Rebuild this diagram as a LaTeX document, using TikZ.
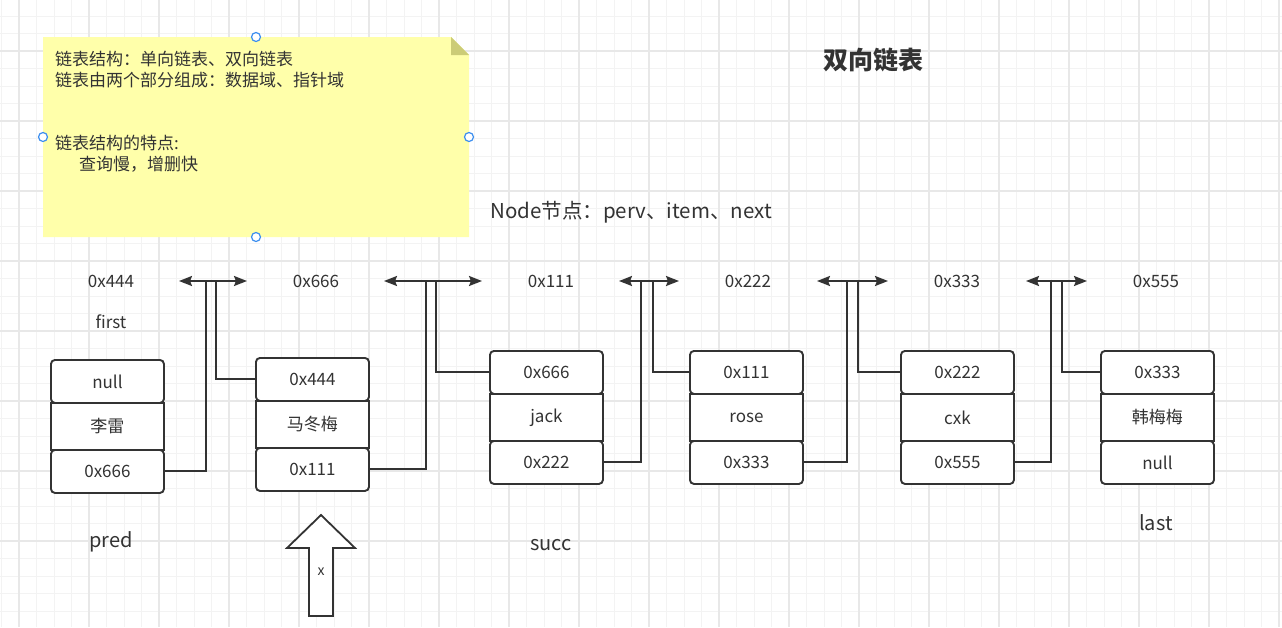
\documentclass[tikz,border=0pt]{standalone}
\usepackage{fontspec}
\setmainfont{Noto Sans CJK SC}
\usetikzlibrary{arrows.meta}
\definecolor{ink}{HTML}{333333}
\definecolor{gminor}{HTML}{F3F3F3}
\definecolor{gmajor}{HTML}{E8E8E8}
\definecolor{notey}{HTML}{FFFFAA}
\definecolor{notefold}{HTML}{CCCC77}
\definecolor{handle}{HTML}{3D8FEF}
\newcommand\setfs[1]{\fontsize{#1}{#1}\selectfont}
\newcommand\llnode[6]{%
  \node[midcell, anchor=north west] (#1m) at ({#2},{#3+43}) {#5};
  \node[cell, anchor=north west] (#1t) at ({#2},{#3}) {#4};
  \node[cell, anchor=north west] (#1b) at ({#2},{#3+90}) {#6};
}
\newcommand\llconn[7]{%
  \coordinate (#7l) at (#3,281);
  \coordinate (#7r) at (#4,281);
  \coordinate (#7tl) at (#5,281);
  \coordinate (#7tr) at (#6,281);
  \draw[link,-{Stealth[length=13pt,width=10pt,inset=2pt]}] (#1b.east) -| (#7l) -- (#7tl);
  \draw[link] (#7l) -- (#7r);
  \draw[link,-{Stealth[length=13pt,width=10pt,inset=2pt]}] (#2t.west) -| (#7r) -- (#7tr);
}
\tikzset{
  gridminorline/.style={draw=gminor, line width=1},
  gridmajorline/.style={draw=gmajor, line width=1.4},
  cell/.style={draw=ink, line width=1.9, fill=white, rounded corners=4, minimum width=113, minimum height=43, inner sep=0, font=\setfs{17}, text=ink},
  midcell/.style={draw=ink, line width=1.9, fill=white, minimum width=113, minimum height=47, inner sep=0, font=\setfs{17}, text=ink},
  link/.style={draw=ink, line width=2},
  lbl/.style={inner sep=0, text=ink, font=\setfs{17}},
  biglbl/.style={inner sep=0, text=ink, font=\setfs{20}},
  notetxt/.style={inner sep=0, text=ink, font=\setfs{17}, anchor=west},
  handledot/.style={draw=handle, fill=white, line width=1.2, circle, inner sep=0, minimum size=9},
}
\begin{document}
\begin{tikzpicture}[x=1pt,y=-1pt]
\useasboundingbox (0,0) rectangle (1282,627);
\fill[white] (0,0) rectangle (1282,627);
% grid
\foreach \i in {0,...,73} \draw[gridminorline] ({1.5+17.5*\i},0) -- ({1.5+17.5*\i},627);
\foreach \j in {1,...,36} \draw[gridminorline] (0,{-1.5+17.5*\j}) -- (1282,{-1.5+17.5*\j});
\foreach \i in {0,...,18} \draw[gridmajorline] ({19+70*\i},0) -- ({19+70*\i},627);
\foreach \j in {1,...,8} \draw[gridmajorline] (0,{-19+70*\j}) -- (1282,{-19+70*\j});

% note
\fill[notey] (43,37) -- (451,37) -- (469,55) -- (469,237) -- (43,237) -- cycle;
\fill[notefold] (451,37) -- (451,55) -- (469,55) -- cycle;
\node[notetxt] (n1) at (55,59) {链表结构：单向链表、双向链表};
\node[notetxt] (n2) at (55,80) {链表由两个部分组成：数据域、指针域};
\node[notetxt] (n3) at (55,143) {链表结构的特点:};
\node[notetxt] (n4) at (79,164) {查询慢，增删快};
\node[handledot] (h1) at (256,37) {};
\node[handledot] (h2) at (43,137) {};
\node[handledot] (h3) at (469,137) {};
\node[handledot] (h4) at (256,237) {};

% title
\node[inner sep=0, text=ink, font=\setfs{25}\bfseries] (title) at (873,60) {双向链表};
\node[inner sep=0, text=ink, font=\setfs{20.5}] (nodelbl) at (631,212) {Node节点：perv、item、next};

% addresses
\node[lbl] (ad1) at (111,281) {0x444};
\node[lbl] (ad2) at (316,281) {0x666};
\node[lbl] (ad3) at (551,281) {0x111};
\node[lbl] (ad4) at (748,281) {0x222};
\node[lbl] (ad5) at (957,281) {0x333};
\node[lbl] (ad6) at (1156,281) {0x555};
\node[lbl] (first) at (111,322) {first};

% list nodes
\llnode{a}{50}{359}{null}{李雷}{0x666}
\llnode{b}{255}{357}{0x444}{马冬梅}{0x111}
\llnode{c}{489}{350}{0x666}{jack}{0x222}
\llnode{d}{689}{350}{0x111}{rose}{0x333}
\llnode{e}{900}{350}{0x222}{cxk}{0x555}
\llnode{f}{1100}{350}{0x333}{韩梅梅}{null}

% connectors
\llconn{a}{b}{206}{216}{179}{247}{k1}
\llconn{b}{c}{426}{436}{384}{482}{k2}
\llconn{c}{d}{641}{653}{619}{679}{k3}
\llconn{d}{e}{847}{858}{817}{888}{k4}
\llconn{e}{f}{1051}{1062}{1026}{1087}{k5}

% bottom labels
\node[biglbl] (pred) at (111,542) {pred};
\node[biglbl] (succ) at (551,545) {succ};
\node[biglbl] (last) at (1156,523) {last};

% x arrow
\draw[draw=ink, fill=white, line width=1.8, line join=miter] (309,616) -- (309,548) -- (287,548) -- (321,515) -- (355,548) -- (333,548) -- (333,616) -- cycle;
\node[inner sep=0, text=ink, font=\setfs{14}] (xl) at (321,572) {x};
\end{tikzpicture}
\end{document}
